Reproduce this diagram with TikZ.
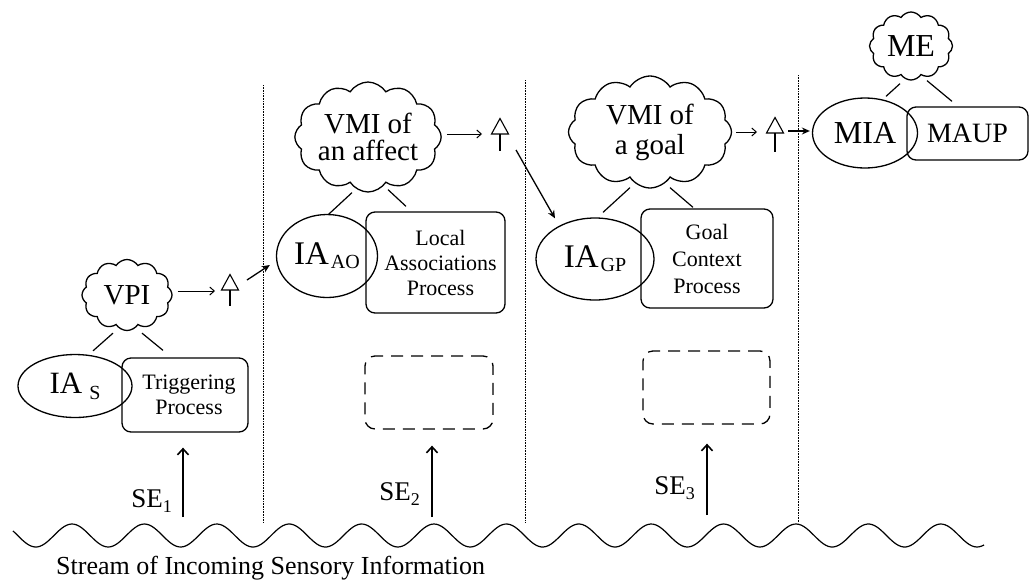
\documentclass[tikz,border=0pt]{standalone}
\usepackage{fontspec}
\setmainfont{Liberation Serif}
\usetikzlibrary{shapes.geometric,shapes.symbols,arrows.meta,calc}

% hollow up-pointing gate: triangle sitting on a short stem
\newcommand\gatemark[2]{%
  \draw[gateln] ($(#1)+(-8.5,0)$) -- ($(#1)+(0,-15.5)$) -- ($(#1)+(8.5,0)$) -- cycle;
  \draw[gateln] (#1) -- ($(#1)+(0,#2)$);}

\begin{document}
\begin{tikzpicture}[x=1pt,y=-1pt,
  every node/.style={inner sep=0pt},
  thought/.style={cloud, draw, cloud puffs=12, cloud puff arc=115, cloud ignores aspect,
                  line width=1.3pt, align=center},
  agent/.style={ellipse, draw, line width=1.3pt},
  procbox/.style={draw, rounded corners=9pt, line width=1.3pt, align=center},
  ghostbox/.style={draw, rounded corners=10pt, line width=1.3pt, dash pattern=on 12pt off 8pt},
  linkln/.style={line width=1.2pt},
  gateln/.style={line width=1.1pt},
  feedarr/.style={line width=1pt, -{Straight Barb[length=4.5pt,width=8pt]}},
  jumparr/.style={line width=1.3pt, -{Stealth[length=8pt,width=7pt]}},
  sensearr/.style={line width=2pt, -{Straight Barb[length=6pt,width=11pt,line width=1.6pt]}},
  divline/.style={line width=0.9pt, dash pattern=on 0.8pt off 0.8pt},
]
\useasboundingbox (0,0) rectangle (1032,579);

% ---------- stage 1: triggering ----------
\node[thought, minimum width=90pt, minimum height=71pt, font=\fontsize{29}{29}\selectfont] (vpi) at (127,295) {VPI};
\node[agent, minimum width=114pt, minimum height=63pt] (ias) at (75,386)
  {\fontsize{31}{31}\selectfont IA\hspace{7pt}\raisebox{-6pt}{\fontsize{20}{20}\selectfont S}};
\node[procbox, minimum width=126pt, minimum height=74pt, font=\fontsize{22}{25}\selectfont] (trig) at (185,395) {\hspace*{8pt}Triggering\\\hspace*{8pt}Process};
\draw[linkln] ($(vpi.south)+(-14,2)$) -- ($(ias.north)+(18,-3)$);
\draw[linkln] ($(vpi.south)+(15,2)$) -- ($(trig.north)+(-22,-7)$);

\coordinate (g1) at (230,290);
\gatemark{g1}{16}
\draw[feedarr] ($(vpi.east)+(5,-4)$) -- ($(g1)+(-15,1)$);

% ---------- stage 2: local associations ----------
\node[thought, minimum width=142pt, minimum height=110pt, font=\fontsize{29}{27}\selectfont] (vmia) at (368,137) {VMI of\\an affect};
\node[agent, minimum width=101pt, minimum height=83pt] (iaao) at (327,256)
  {\fontsize{33}{33}\selectfont IA\hspace{2pt}\raisebox{-4pt}{\fontsize{20}{20}\selectfont AO}};
\node[procbox, minimum width=139pt, minimum height=101pt, font=\fontsize{22}{25}\selectfont] (lap) at (435.5,262.5) {\hspace*{10pt}Local\\\hspace*{10pt}Associations\\\hspace*{10pt}Process};
\draw[linkln] ($(vmia.south)+(-16,0)$) -- ($(iaao.north)+(1,1)$);
\draw[linkln] ($(vmia.south)+(20,-3)$) -- ($(lap.north)+(-29.5,-5)$);
\draw[jumparr] ($(g1)+(17,-10)$) -- ($(iaao.west)+(-6,9)$);

\coordinate (g2) at (500,134);
\gatemark{g2}{17}
\draw[feedarr] ($(vmia.east)+(5,-3)$) -- ($(g2)+(-18,0)$);

% ---------- stage 3: goal context ----------
\node[thought, minimum width=163pt, minimum height=112pt, font=\fontsize{29}{30}\selectfont] (vmig) at (650,132) {VMI of\\a goal};
\node[agent, minimum width=118pt, minimum height=82pt] (iagp) at (595,259)
  {\fontsize{33}{33}\selectfont IA\hspace{2pt}\raisebox{-4pt}{\fontsize{20}{20}\selectfont GP}};
\node[procbox, minimum width=132pt, minimum height=99pt, font=\fontsize{22}{27}\selectfont] (gcp) at (707,258.5) {Goal\\Context\\Process};
\draw[linkln] ($(vmig.south)+(-20,-1)$) -- ($(iagp.north)+(8,-5)$);
\draw[linkln] ($(vmig.south)+(20,-1)$) -- ($(gcp.north)+(-14,-1)$);
\draw[jumparr] ($(g2)+(16,16)$) -- ($(iagp.north)+(-40,1)$);

\coordinate (g3) at (775,133);
\gatemark{g3}{19}
\draw[feedarr] ($(vmig.east)+(4,0)$) -- ($(g3)+(-18,-1)$);

% ---------- stage 4: MIA / MAUP ----------
\node[thought, minimum width=83pt, minimum height=68pt, font=\fontsize{32}{32}\selectfont] (me) at (911,46) {ME};
\node[agent, minimum width=105pt, minimum height=70pt, font=\fontsize{32}{32}\selectfont] (mia) at (865,133) {MIA};
\node[procbox, minimum width=121pt, minimum height=53pt, font=\fontsize{28}{28}\selectfont] (maup) at (967.5,133.5) {MAUP};
\draw[linkln] ($(me.south)+(-11,3)$) -- ($(mia.north)+(21,-1)$);
\draw[linkln] ($(me.south)+(16,0)$) -- ($(maup.north)+(-15.5,-5)$);
\draw[jumparr] ($(g3)+(13,-2)$) -- ($(mia.west)+(-2,-2)$);

% ---------- empty process slots ----------
\node[ghostbox, minimum width=128pt, minimum height=73pt] (db1) at (429,392.5) {};
\node[ghostbox, minimum width=127pt, minimum height=73pt] (db2) at (706.5,387.5) {};

% ---------- stage dividers ----------
\draw[divline] (263,85) -- (263,523);
\draw[divline] (525,80) -- (525,523);
\draw[divline] (798,75) -- (798,523);

% ---------- sensory events ----------
\coordinate (s1) at (183,517);
\coordinate (s2) at (432,517);
\coordinate (s3) at (707,515);
\draw[sensearr] (s1) -- ($(trig.south)+(-2,15)$);
\draw[sensearr] (s2) -- ($(db1.south)+(3,16)$);
\draw[sensearr] (s3) -- ($(db2.south)+(0.5,19)$);
\node[anchor=base east, font=\fontsize{27}{27}\selectfont] (se1) at (172,507) {SE\raisebox{-5pt}{\fontsize{18}{18}\selectfont 1}};
\node[anchor=base east, font=\fontsize{27}{27}\selectfont] (se2) at (420,500) {SE\raisebox{-5pt}{\fontsize{18}{18}\selectfont 2}};
\node[anchor=base east, font=\fontsize{27}{27}\selectfont] (se3) at (695,494) {SE\raisebox{-5pt}{\fontsize{18}{18}\selectfont 3}};

% ---------- sensory stream ----------
\draw[line width=1.2pt, domain=13:984, samples=400, smooth, variable=\x]
  plot (\x, {535.5 - 11.5*sin(4.97238*(\x-53.9))});
\node[anchor=base west, font=\fontsize{26}{26}\selectfont] (stream) at (56,574) {Stream of Incoming Sensory Information};
\end{tikzpicture}
\end{document}
